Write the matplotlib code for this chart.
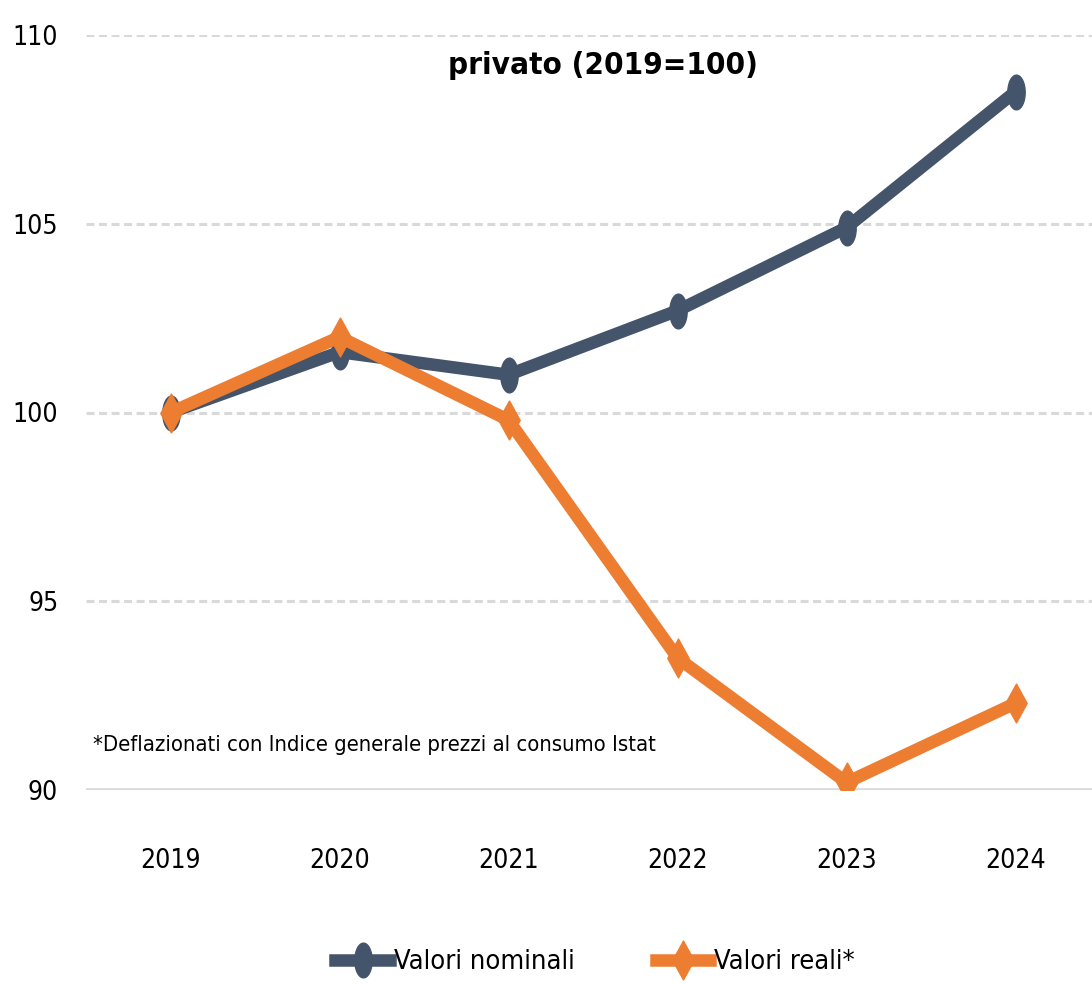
import numpy as np
import matplotlib.pyplot as plt
from matplotlib.path import Path
from matplotlib.lines import Line2D

plt.rcParams['font.family'] = ['DejaVu Sans']
plt.rcParams['font.stretch'] = 'condensed'

anni = ['2019', '2020', '2021', '2022', '2023', '2024']
nominali = [100.0, 101.6, 101.0, 102.7, 104.9, 108.5]
reali = [100.0, 102.0, 99.8, 93.5, 90.2, 92.3]
yticks = [90, 95, 100, 105, 110]

col_nom = '#44546A'
col_real = '#ED7D31'
grid_col = '#D9D9D9'

# narrow markers (the original is squeezed horizontally)
t = np.linspace(0, 2 * np.pi, 40)
ellisse = Path(np.column_stack([0.5 * np.cos(t), np.sin(t)]), closed=True)
rombo = Path([(0, 1), (0.55, 0), (0, -1), (-0.55, 0), (0, 1)], closed=True)

fig = plt.figure(figsize=(10.92, 9.84), dpi=100)
ax = fig.add_axes([86 / 1092, 1 - 790 / 984, 1014 / 1092, 755 / 984])

x = np.arange(len(anni))
ax.plot(x, nominali, color=col_nom, lw=9, marker=ellisse, ms=25,
        solid_joinstyle='round', zorder=3)
ax.plot(x, reali, color=col_real, lw=9, marker=rombo, ms=28,
        solid_joinstyle='miter', zorder=4)

ax.set_xlim(-0.5, len(anni) - 0.5)
ax.set_ylim(90, 110)
ax.set_yticks(yticks)
ax.set_xticks(x)
ax.set_xticklabels(anni)
for yv in yticks[1:]:
    ax.axhline(yv, color=grid_col, lw=2.2, ls=(0, (2.6, 1.5)), zorder=1)
ax.axhline(90, color=grid_col, lw=2.6, zorder=1)

for s in ax.spines.values():
    s.set_visible(False)
ax.tick_params(axis='both', length=0, labelsize=19)
ax.tick_params(axis='x', pad=42)
ax.tick_params(axis='y', pad=20)

ax.text(0.007, 0.06, '*Deflazionati con Indice generale prezzi al consumo Istat',
        transform=ax.transAxes, fontsize=15.8, va='center', ha='left')

fig.text(603 / 1092, 1 - 65 / 984, 'privato (2019=100)', fontsize=22.5,
         fontweight='bold', ha='center', va='center')

handles = [Line2D([], [], color=col_nom, lw=9, marker=ellisse, ms=25),
           Line2D([], [], color=col_real, lw=9, marker=rombo, ms=28)]
fig.legend(handles, ['Valori nominali', 'Valori reali*'], loc='center',
           bbox_to_anchor=(595 / 1092, 1 - 962 / 984), ncol=2, frameon=False,
           fontsize=19.5, handlelength=2.0, handletextpad=0.15, columnspacing=3.0)

fig.savefig('out.png', dpi=100)
